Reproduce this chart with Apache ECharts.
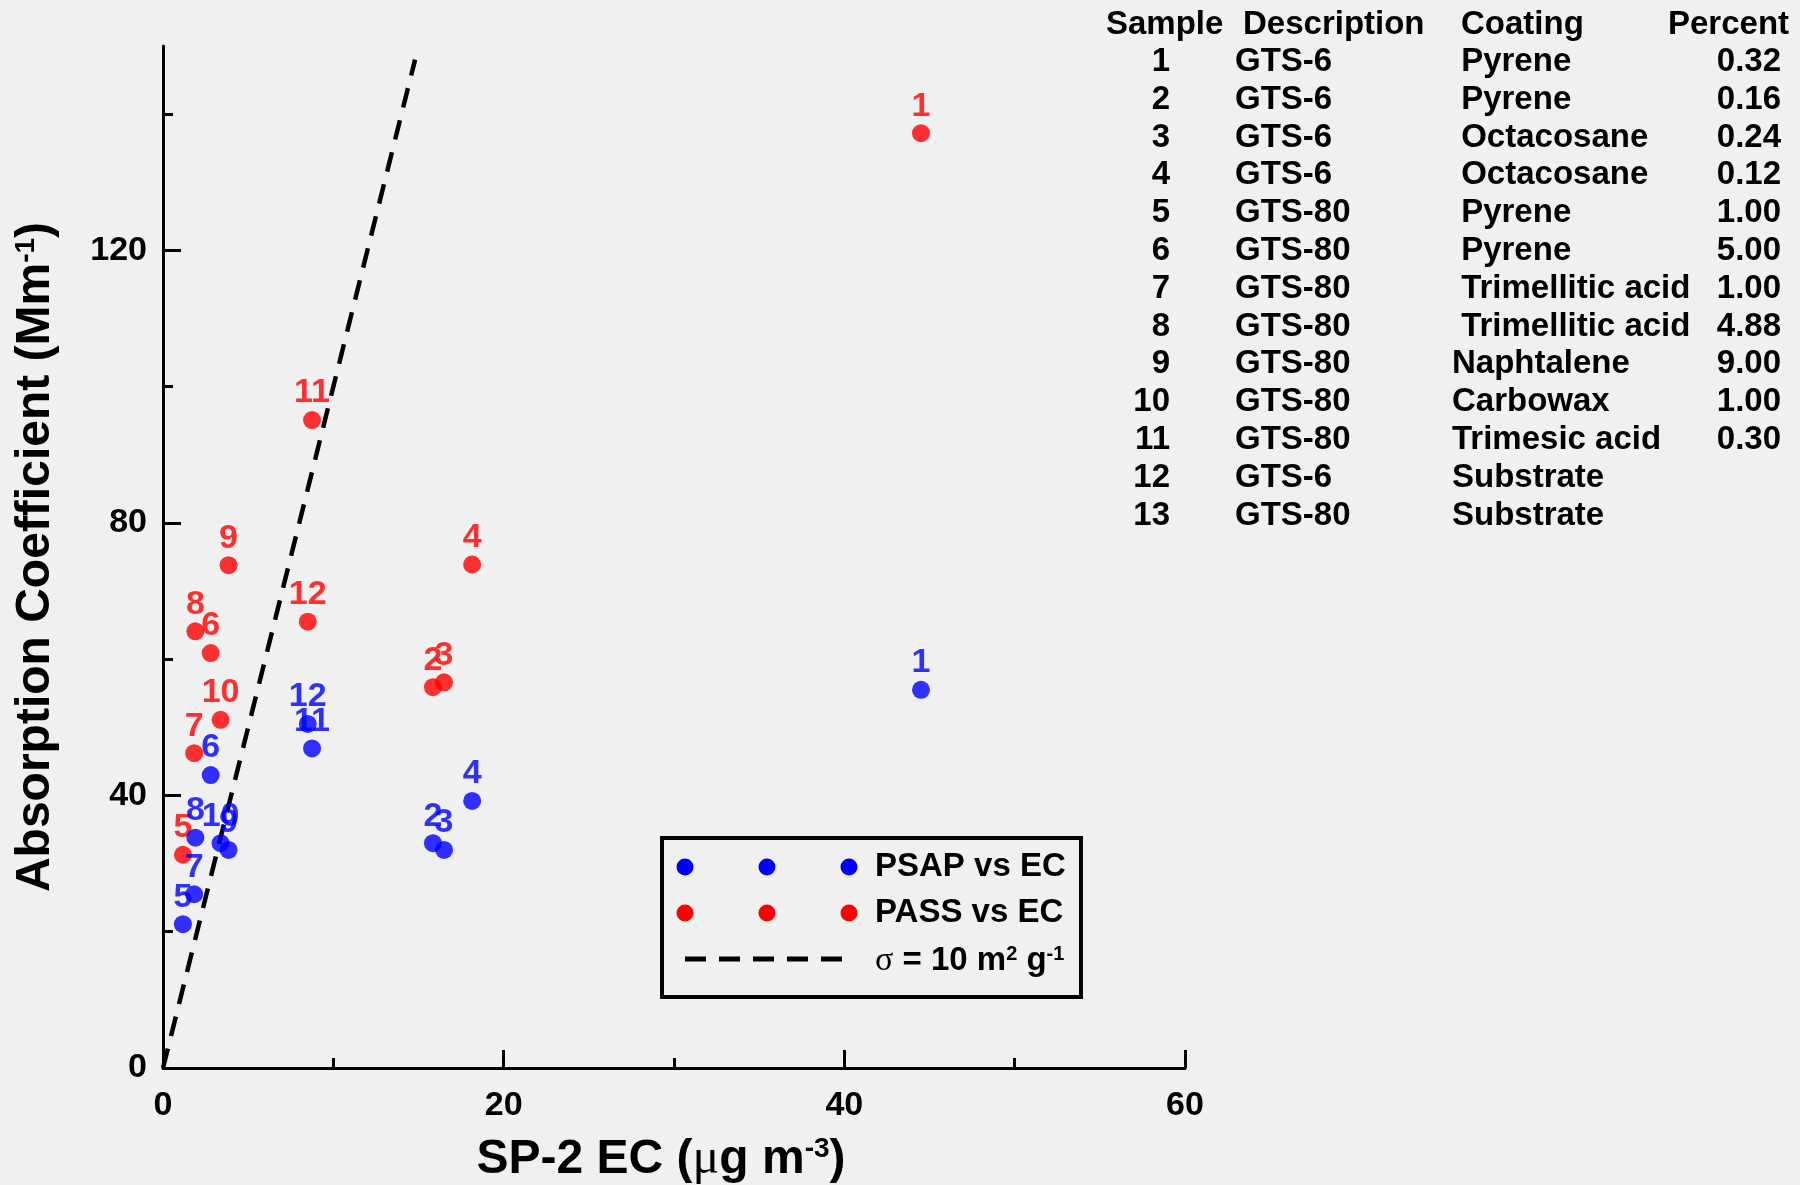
<!DOCTYPE html>
<html>
<head>
<meta charset="utf-8">
<script src="https://cdn.jsdelivr.net/npm/echarts@6/dist/echarts.min.js"></script>
<style>
  html, body { margin: 0; padding: 0; background: #f0f0f0; }
  #chart { width: 1800px; height: 1185px; }
</style>
</head>
<body>
<div id="chart"></div>
<script>
// plotted samples (1..12), EC mass vs absorption
const pointIds = ['1', '2', '3', '4', '5', '6', '7', '8', '9', '10', '11', '12'];
const ecMass = [44.5, 15.85, 16.5, 18.15, 1.17, 2.8, 1.83, 1.9, 3.85, 3.38, 8.75, 8.5];
const passAbs = [137.2, 55.9, 56.6, 73.9, 31.3, 60.9, 46.2, 64.1, 73.8, 51.1, 95.1, 65.5];
const psapAbs = [55.5, 33.0, 32.0, 39.2, 21.1, 43.0, 25.5, 33.8, 32.0, 33.0, 46.9, 50.5];

// sigma = 10 m2/g reference line
const sigmaEc = [0, 14.8];
const sigmaAbs = [0, 148];

// axis ticks
const xMajorTicks = [0, 20, 40, 60];
const xMinorTicks = [10, 30, 50];
const yMajorTicks = [0, 40, 80, 120];
const yMinorTicks = [20, 60, 100, 140];

// sample table
const tableHeaders = ['Sample', 'Description', 'Coating', 'Percent'];
const sampleIds = ['1', '2', '3', '4', '5', '6', '7', '8', '9', '10', '11', '12', '13'];
const descriptions = ['GTS-6', 'GTS-6', 'GTS-6', 'GTS-6', 'GTS-80', 'GTS-80', 'GTS-80',
  'GTS-80', 'GTS-80', 'GTS-80', 'GTS-80', 'GTS-6', 'GTS-80'];
const coatings = [' Pyrene', ' Pyrene', ' Octacosane', ' Octacosane', ' Pyrene', ' Pyrene',
  ' Trimellitic acid', ' Trimellitic acid', 'Naphtalene', 'Carbowax', 'Trimesic acid',
  'Substrate', 'Substrate'];
const percents = ['0.32', '0.16', '0.24', '0.12', '1.00', '5.00', '1.00', '4.88', '9.00',
  '1.00', '0.30', '', ''];

const FONT = '"Liberation Sans", Arial, sans-serif';
const SERIF = '"Liberation Serif", "Times New Roman", serif';
const BLUE = '#0000ff';
const RED = '#ff0000';

const chart = echarts.init(document.getElementById('chart'));

function points(ys) {
  return ecMass.map((x, i) => [x, ys[i], pointIds[i]]);
}

function pointLabel(color) {
  return {
    show: true, position: 'top', distance: 1,
    formatter: p => p.value[2],
    color: color, fontFamily: FONT, fontWeight: 'bold', fontSize: 34
  };
}

function txt(text, x, y, align, font, fill) {
  return {
    type: 'text', x: x, y: y, z: 10,
    style: {
      text: text, textAlign: align, textVerticalAlign: 'middle',
      font: font || 'bold 33px ' + FONT, fill: fill || '#000'
    }
  };
}

// table graphics
const headerX = [1106, 1243, 1461, 1668];
const tableEls = tableHeaders.map((h, j) => txt(h, headerX[j], 25, 'left'));
sampleIds.forEach((s, i) => {
  const y = 62 + i * 37.8;
  tableEls.push(txt(s, 1170, y, 'right'));
  tableEls.push(txt(descriptions[i], 1235, y, 'left'));
  tableEls.push(txt(coatings[i], 1452, y, 'left'));
  if (percents[i]) tableEls.push(txt(percents[i], 1781, y, 'right'));
});

// legend graphics
const legendEls = [
  { type: 'rect', z: 10, shape: { x: 662, y: 838, width: 419, height: 159 },
    style: { fill: 'none', stroke: '#000', lineWidth: 4 } }
];
[685, 767, 849].forEach(cx => {
  legendEls.push({ type: 'circle', z: 10, shape: { cx: cx, cy: 867, r: 8.5 }, style: { fill: BLUE } });
  legendEls.push({ type: 'circle', z: 10, shape: { cx: cx, cy: 913, r: 8.5 }, style: { fill: RED } });
});
legendEls.push({ type: 'line', z: 10, shape: { x1: 685, y1: 959, x2: 843, y2: 959 },
  style: { stroke: '#000', lineWidth: 5, lineDash: [21, 13] } });
legendEls.push(txt('PSAP vs EC', 875, 867, 'left'));
legendEls.push(txt('PASS vs EC', 875, 913, 'left'));
legendEls.push({
  type: 'text', x: 875, y: 961, z: 10,
  style: {
    text: '{s|σ} = 10 m{sup|2} g{sup|-1}', textAlign: 'left', textVerticalAlign: 'middle',
    font: 'bold 33px ' + FONT, fill: '#000',
    rich: {
      s: { font: '34px ' + SERIF, fill: '#000' },
      sup: { font: 'bold 20px ' + FONT, fill: '#000', verticalAlign: 'top', lineHeight: 20 }
    }
  }
});

const tickLabel = { fontFamily: FONT, fontWeight: 'bold', fontSize: 34, color: '#000' };
const axisLine = { show: true, lineStyle: { color: '#000', width: 3 } };

chart.setOption({
  backgroundColor: '#f0f0f0',
  animation: false,
  grid: { left: 163, right: 615, top: 46, bottom: 117, outerBoundsMode: 'none' },
  xAxis: [{
    type: 'value', min: 0, max: 60, interval: 20,
    axisLine: axisLine,
    axisTick: { show: true, inside: true, length: 18, customValues: xMajorTicks,
      lineStyle: { color: '#000', width: 3 } },
    axisLabel: Object.assign({ margin: 21, customValues: xMajorTicks }, tickLabel),
    splitLine: { show: false },
    name: 'SP-2 EC ({mu|μ}g m{sup|-3})',
    nameLocation: 'middle', nameGap: 67,
    nameTextStyle: {
      fontFamily: FONT, fontWeight: 'bold', fontSize: 48, color: '#000',
      padding: [0, 26, 0, 0],
      rich: {
        mu: { fontFamily: SERIF, fontWeight: 'normal', fontSize: 50, color: '#000' },
        sup: { fontFamily: FONT, fontWeight: 'bold', fontSize: 28, color: '#000', verticalAlign: 'top', lineHeight: 28 }
      }
    }
  }, {
    type: 'value', min: 0, max: 60, interval: 20, position: 'bottom',
    axisLine: { show: false },
    axisTick: { show: true, inside: true, length: 10, customValues: xMinorTicks,
      lineStyle: { color: '#000', width: 3 } },
    axisLabel: { show: false },
    splitLine: { show: false }
  }],
  yAxis: [{
    type: 'value', min: 0, max: 150, interval: 40,
    axisLine: axisLine,
    axisTick: { show: true, inside: true, length: 18, customValues: yMajorTicks,
      lineStyle: { color: '#000', width: 3 } },
    axisLabel: Object.assign({ margin: 16, customValues: yMajorTicks }, tickLabel),
    splitLine: { show: false },
    name: 'Absorption Coefficient (Mm{sup|-1})',
    nameLocation: 'middle', nameGap: 103,
    nameTextStyle: {
      fontFamily: FONT, fontWeight: 'bold', fontSize: 48, color: '#000',
      rich: {
        sup: { fontFamily: FONT, fontWeight: 'bold', fontSize: 28, color: '#000', verticalAlign: 'top', lineHeight: 28 }
      }
    }
  }, {
    type: 'value', min: 0, max: 150, interval: 40, position: 'left',
    axisLine: { show: false },
    axisTick: { show: true, inside: true, length: 10, customValues: yMinorTicks,
      lineStyle: { color: '#000', width: 3 } },
    axisLabel: { show: false },
    splitLine: { show: false }
  }],
  series: [{
    name: 'sigma', type: 'line',
    data: sigmaEc.map((x, i) => [x, sigmaAbs[i]]),
    symbol: 'none', silent: true, z: 1,
    lineStyle: { color: '#000', width: 4.5, type: [20, 13] }
  }, {
    name: 'PASS vs EC', type: 'scatter',
    data: points(passAbs),
    symbolSize: 18, itemStyle: { color: RED },
    label: pointLabel(RED), z: 3
  }, {
    name: 'PSAP vs EC', type: 'scatter',
    data: points(psapAbs),
    symbolSize: 18, itemStyle: { color: BLUE },
    label: pointLabel(BLUE), z: 4
  }],
  graphic: { elements: tableEls.concat(legendEls) }
});

window.addEventListener('resize', () => chart.resize());
</script>
</body>
</html>
